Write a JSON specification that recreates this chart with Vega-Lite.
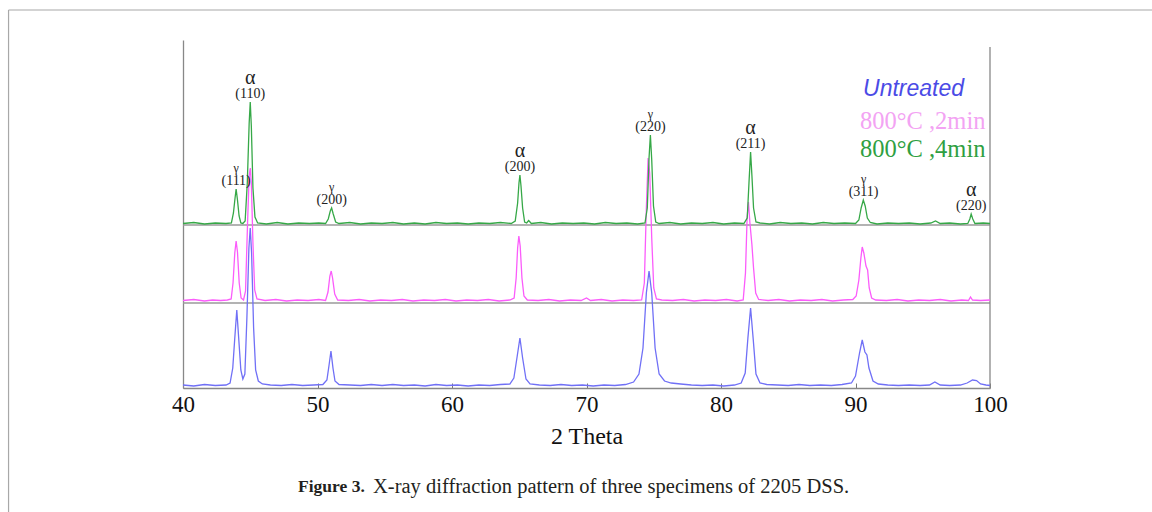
{
  "$schema": "https://vega.github.io/schema/vega-lite/v6.json",
  "width": 807,
  "height": 348,
  "autosize": {"type": "none"},
  "padding": {"left": 183, "top": 40, "right": 162, "bottom": 124},
  "background": "white",
  "config": {"view": {"stroke": null}},
  "data": {"values": [{}]},
  "datasets": {
    "xrd": [
      {"t": 40, "i": 3, "s": "Untreated"}, {"t": 40.8, "i": 2, "s": "Untreated"}, {"t": 41.6, "i": 3.5, "s": "Untreated"}, {"t": 42.4, "i": 2.5, "s": "Untreated"}, {"t": 43.2, "i": 3, "s": "Untreated"}, {"t": 43.5, "i": 5, "s": "Untreated"}, {"t": 43.7, "i": 20, "s": "Untreated"}, {"t": 43.85, "i": 50, "s": "Untreated"}, {"t": 44.0, "i": 78, "s": "Untreated"}, {"t": 44.15, "i": 48, "s": "Untreated"}, {"t": 44.3, "i": 18, "s": "Untreated"}, {"t": 44.45, "i": 9, "s": "Untreated"}, {"t": 44.6, "i": 14, "s": "Untreated"}, {"t": 44.75, "i": 70, "s": "Untreated"}, {"t": 44.9, "i": 140, "s": "Untreated"}, {"t": 45.0, "i": 160, "s": "Untreated"}, {"t": 45.1, "i": 135, "s": "Untreated"}, {"t": 45.25, "i": 60, "s": "Untreated"}, {"t": 45.4, "i": 18, "s": "Untreated"}, {"t": 45.6, "i": 7, "s": "Untreated"}, {"t": 45.9, "i": 4, "s": "Untreated"}, {"t": 46.5, "i": 3, "s": "Untreated"}, {"t": 47.3, "i": 2.5, "s": "Untreated"}, {"t": 48.1, "i": 3.5, "s": "Untreated"}, {"t": 48.9, "i": 2.5, "s": "Untreated"}, {"t": 49.7, "i": 3, "s": "Untreated"}, {"t": 50.4, "i": 3.5, "s": "Untreated"}, {"t": 50.7, "i": 8, "s": "Untreated"}, {"t": 50.85, "i": 22, "s": "Untreated"}, {"t": 51.0, "i": 37, "s": "Untreated"}, {"t": 51.15, "i": 20, "s": "Untreated"}, {"t": 51.3, "i": 7, "s": "Untreated"}, {"t": 51.6, "i": 3.5, "s": "Untreated"}, {"t": 52.4, "i": 3, "s": "Untreated"}, {"t": 53.2, "i": 2.5, "s": "Untreated"}, {"t": 54, "i": 3.5, "s": "Untreated"}, {"t": 54.8, "i": 2.5, "s": "Untreated"}, {"t": 55.6, "i": 3.5, "s": "Untreated"}, {"t": 56.4, "i": 2.5, "s": "Untreated"}, {"t": 57.2, "i": 3, "s": "Untreated"}, {"t": 58, "i": 2, "s": "Untreated"}, {"t": 58.8, "i": 3.5, "s": "Untreated"}, {"t": 59.6, "i": 2.5, "s": "Untreated"}, {"t": 60.4, "i": 3, "s": "Untreated"}, {"t": 61.2, "i": 2, "s": "Untreated"}, {"t": 62, "i": 3, "s": "Untreated"}, {"t": 62.8, "i": 2.5, "s": "Untreated"}, {"t": 63.6, "i": 3.5, "s": "Untreated"}, {"t": 64.3, "i": 4, "s": "Untreated"}, {"t": 64.6, "i": 10, "s": "Untreated"}, {"t": 64.85, "i": 32, "s": "Untreated"}, {"t": 65.05, "i": 50, "s": "Untreated"}, {"t": 65.25, "i": 30, "s": "Untreated"}, {"t": 65.5, "i": 9, "s": "Untreated"}, {"t": 65.8, "i": 4, "s": "Untreated"}, {"t": 66.5, "i": 3, "s": "Untreated"}, {"t": 67.3, "i": 2.5, "s": "Untreated"}, {"t": 68.1, "i": 3.5, "s": "Untreated"}, {"t": 68.9, "i": 2.5, "s": "Untreated"}, {"t": 69.7, "i": 3, "s": "Untreated"}, {"t": 70.5, "i": 2, "s": "Untreated"}, {"t": 71.3, "i": 3, "s": "Untreated"}, {"t": 72.1, "i": 2.5, "s": "Untreated"}, {"t": 72.9, "i": 3.5, "s": "Untreated"}, {"t": 73.5, "i": 6, "s": "Untreated"}, {"t": 73.9, "i": 14, "s": "Untreated"}, {"t": 74.2, "i": 40, "s": "Untreated"}, {"t": 74.45, "i": 95, "s": "Untreated"}, {"t": 74.65, "i": 117, "s": "Untreated"}, {"t": 74.85, "i": 95, "s": "Untreated"}, {"t": 75.1, "i": 40, "s": "Untreated"}, {"t": 75.4, "i": 14, "s": "Untreated"}, {"t": 75.8, "i": 7, "s": "Untreated"}, {"t": 76.3, "i": 5, "s": "Untreated"}, {"t": 77, "i": 4, "s": "Untreated"}, {"t": 77.8, "i": 3, "s": "Untreated"}, {"t": 78.6, "i": 2.5, "s": "Untreated"}, {"t": 79.4, "i": 3, "s": "Untreated"}, {"t": 80.2, "i": 2, "s": "Untreated"}, {"t": 81, "i": 3, "s": "Untreated"}, {"t": 81.5, "i": 5, "s": "Untreated"}, {"t": 81.8, "i": 15, "s": "Untreated"}, {"t": 82.0, "i": 50, "s": "Untreated"}, {"t": 82.2, "i": 80, "s": "Untreated"}, {"t": 82.4, "i": 48, "s": "Untreated"}, {"t": 82.6, "i": 14, "s": "Untreated"}, {"t": 82.9, "i": 5, "s": "Untreated"}, {"t": 83.4, "i": 3.5, "s": "Untreated"}, {"t": 84.2, "i": 3, "s": "Untreated"}, {"t": 85, "i": 2.5, "s": "Untreated"}, {"t": 85.8, "i": 3.5, "s": "Untreated"}, {"t": 86.6, "i": 2.5, "s": "Untreated"}, {"t": 87.4, "i": 3, "s": "Untreated"}, {"t": 88.2, "i": 2.5, "s": "Untreated"}, {"t": 89, "i": 3.5, "s": "Untreated"}, {"t": 89.7, "i": 5, "s": "Untreated"}, {"t": 90.0, "i": 12, "s": "Untreated"}, {"t": 90.3, "i": 35, "s": "Untreated"}, {"t": 90.5, "i": 48, "s": "Untreated"}, {"t": 90.7, "i": 36, "s": "Untreated"}, {"t": 90.85, "i": 33, "s": "Untreated"}, {"t": 91.0, "i": 20, "s": "Untreated"}, {"t": 91.3, "i": 7, "s": "Untreated"}, {"t": 91.7, "i": 4, "s": "Untreated"}, {"t": 92.4, "i": 3, "s": "Untreated"}, {"t": 93.2, "i": 2.5, "s": "Untreated"}, {"t": 94, "i": 3, "s": "Untreated"}, {"t": 94.8, "i": 2.5, "s": "Untreated"}, {"t": 95.5, "i": 3, "s": "Untreated"}, {"t": 95.9, "i": 6, "s": "Untreated"}, {"t": 96.3, "i": 3, "s": "Untreated"}, {"t": 97, "i": 2.5, "s": "Untreated"}, {"t": 97.8, "i": 3, "s": "Untreated"}, {"t": 98.3, "i": 5, "s": "Untreated"}, {"t": 98.7, "i": 8, "s": "Untreated"}, {"t": 99.0, "i": 7.5, "s": "Untreated"}, {"t": 99.3, "i": 4, "s": "Untreated"}, {"t": 99.7, "i": 3, "s": "Untreated"}, {"t": 100, "i": 2.5, "s": "Untreated"},

      {"t": 40, "i": 87.5, "s": "800°C ,2min"}, {"t": 40.8, "i": 88.5, "s": "800°C ,2min"}, {"t": 41.6, "i": 87, "s": "800°C ,2min"}, {"t": 42.2, "i": 88, "s": "800°C ,2min"}, {"t": 42.8, "i": 87.5, "s": "800°C ,2min"}, {"t": 43.3, "i": 88, "s": "800°C ,2min"}, {"t": 43.58, "i": 89, "s": "800°C ,2min"}, {"t": 43.72, "i": 105, "s": "800°C ,2min"}, {"t": 43.85, "i": 135, "s": "800°C ,2min"}, {"t": 43.95, "i": 147, "s": "800°C ,2min"}, {"t": 44.05, "i": 136, "s": "800°C ,2min"}, {"t": 44.18, "i": 105, "s": "800°C ,2min"}, {"t": 44.32, "i": 90, "s": "800°C ,2min"}, {"t": 44.5, "i": 88, "s": "800°C ,2min"}, {"t": 44.65, "i": 97, "s": "800°C ,2min"}, {"t": 44.8, "i": 165, "s": "800°C ,2min"}, {"t": 44.92, "i": 212, "s": "800°C ,2min"}, {"t": 45.0, "i": 220, "s": "800°C ,2min"}, {"t": 45.08, "i": 205, "s": "800°C ,2min"}, {"t": 45.2, "i": 145, "s": "800°C ,2min"}, {"t": 45.33, "i": 98, "s": "800°C ,2min"}, {"t": 45.5, "i": 89, "s": "800°C ,2min"}, {"t": 46.1, "i": 87.5, "s": "800°C ,2min"}, {"t": 46.9, "i": 88.5, "s": "800°C ,2min"}, {"t": 47.7, "i": 87, "s": "800°C ,2min"}, {"t": 48.5, "i": 88, "s": "800°C ,2min"}, {"t": 49.3, "i": 87.5, "s": "800°C ,2min"}, {"t": 50.1, "i": 88.5, "s": "800°C ,2min"}, {"t": 50.6, "i": 87.5, "s": "800°C ,2min"}, {"t": 50.78, "i": 96, "s": "800°C ,2min"}, {"t": 50.92, "i": 112, "s": "800°C ,2min"}, {"t": 51.02, "i": 117, "s": "800°C ,2min"}, {"t": 51.12, "i": 110, "s": "800°C ,2min"}, {"t": 51.28, "i": 94, "s": "800°C ,2min"}, {"t": 51.5, "i": 88, "s": "800°C ,2min"}, {"t": 52.3, "i": 87.5, "s": "800°C ,2min"}, {"t": 53.1, "i": 88.5, "s": "800°C ,2min"}, {"t": 53.9, "i": 87, "s": "800°C ,2min"}, {"t": 54.7, "i": 88, "s": "800°C ,2min"}, {"t": 55.5, "i": 87.5, "s": "800°C ,2min"}, {"t": 56.3, "i": 88.5, "s": "800°C ,2min"}, {"t": 57.1, "i": 87, "s": "800°C ,2min"}, {"t": 57.9, "i": 88, "s": "800°C ,2min"}, {"t": 58.7, "i": 87.5, "s": "800°C ,2min"}, {"t": 59.5, "i": 88.5, "s": "800°C ,2min"}, {"t": 60.3, "i": 87, "s": "800°C ,2min"}, {"t": 61.1, "i": 88, "s": "800°C ,2min"}, {"t": 61.9, "i": 87.5, "s": "800°C ,2min"}, {"t": 62.7, "i": 88.5, "s": "800°C ,2min"}, {"t": 63.5, "i": 87, "s": "800°C ,2min"}, {"t": 64.3, "i": 88, "s": "800°C ,2min"}, {"t": 64.62, "i": 90, "s": "800°C ,2min"}, {"t": 64.77, "i": 110, "s": "800°C ,2min"}, {"t": 64.88, "i": 140, "s": "800°C ,2min"}, {"t": 64.97, "i": 152, "s": "800°C ,2min"}, {"t": 65.07, "i": 142, "s": "800°C ,2min"}, {"t": 65.2, "i": 110, "s": "800°C ,2min"}, {"t": 65.35, "i": 92, "s": "800°C ,2min"}, {"t": 65.6, "i": 88, "s": "800°C ,2min"}, {"t": 66.4, "i": 87.5, "s": "800°C ,2min"}, {"t": 67.2, "i": 88.5, "s": "800°C ,2min"}, {"t": 68, "i": 87, "s": "800°C ,2min"}, {"t": 68.8, "i": 88, "s": "800°C ,2min"}, {"t": 69.6, "i": 87.5, "s": "800°C ,2min"}, {"t": 70.0, "i": 90, "s": "800°C ,2min"}, {"t": 70.3, "i": 87.5, "s": "800°C ,2min"}, {"t": 71.1, "i": 88.5, "s": "800°C ,2min"}, {"t": 71.9, "i": 87, "s": "800°C ,2min"}, {"t": 72.7, "i": 88, "s": "800°C ,2min"}, {"t": 73.5, "i": 87.5, "s": "800°C ,2min"}, {"t": 74.1, "i": 88, "s": "800°C ,2min"}, {"t": 74.3, "i": 105, "s": "800°C ,2min"}, {"t": 74.45, "i": 180, "s": "800°C ,2min"}, {"t": 74.58, "i": 230, "s": "800°C ,2min"}, {"t": 74.7, "i": 215, "s": "800°C ,2min"}, {"t": 74.85, "i": 150, "s": "800°C ,2min"}, {"t": 75.0, "i": 100, "s": "800°C ,2min"}, {"t": 75.2, "i": 89, "s": "800°C ,2min"}, {"t": 75.6, "i": 88, "s": "800°C ,2min"}, {"t": 76.4, "i": 87.5, "s": "800°C ,2min"}, {"t": 77.2, "i": 88.5, "s": "800°C ,2min"}, {"t": 78, "i": 87, "s": "800°C ,2min"}, {"t": 78.8, "i": 88, "s": "800°C ,2min"}, {"t": 79.6, "i": 87.5, "s": "800°C ,2min"}, {"t": 80.4, "i": 88.5, "s": "800°C ,2min"}, {"t": 81.2, "i": 87, "s": "800°C ,2min"}, {"t": 81.65, "i": 88, "s": "800°C ,2min"}, {"t": 81.82, "i": 115, "s": "800°C ,2min"}, {"t": 81.94, "i": 170, "s": "800°C ,2min"}, {"t": 82.04, "i": 186, "s": "800°C ,2min"}, {"t": 82.15, "i": 165, "s": "800°C ,2min"}, {"t": 82.3, "i": 143, "s": "800°C ,2min"}, {"t": 82.42, "i": 120, "s": "800°C ,2min"}, {"t": 82.58, "i": 95, "s": "800°C ,2min"}, {"t": 82.8, "i": 88.5, "s": "800°C ,2min"}, {"t": 83.5, "i": 87.5, "s": "800°C ,2min"}, {"t": 84.3, "i": 88.5, "s": "800°C ,2min"}, {"t": 85.1, "i": 87, "s": "800°C ,2min"}, {"t": 85.9, "i": 88, "s": "800°C ,2min"}, {"t": 86.7, "i": 87.5, "s": "800°C ,2min"}, {"t": 87.5, "i": 88.5, "s": "800°C ,2min"}, {"t": 88.3, "i": 87, "s": "800°C ,2min"}, {"t": 89.1, "i": 88, "s": "800°C ,2min"}, {"t": 89.8, "i": 88.5, "s": "800°C ,2min"}, {"t": 90.05, "i": 92, "s": "800°C ,2min"}, {"t": 90.25, "i": 108, "s": "800°C ,2min"}, {"t": 90.4, "i": 130, "s": "800°C ,2min"}, {"t": 90.5, "i": 141, "s": "800°C ,2min"}, {"t": 90.62, "i": 135, "s": "800°C ,2min"}, {"t": 90.78, "i": 122, "s": "800°C ,2min"}, {"t": 90.9, "i": 118, "s": "800°C ,2min"}, {"t": 91.02, "i": 100, "s": "800°C ,2min"}, {"t": 91.2, "i": 90, "s": "800°C ,2min"}, {"t": 91.5, "i": 88, "s": "800°C ,2min"}, {"t": 92.3, "i": 87.5, "s": "800°C ,2min"}, {"t": 93.1, "i": 88.5, "s": "800°C ,2min"}, {"t": 93.9, "i": 87, "s": "800°C ,2min"}, {"t": 94.7, "i": 88, "s": "800°C ,2min"}, {"t": 95.5, "i": 87.5, "s": "800°C ,2min"}, {"t": 96.3, "i": 88.5, "s": "800°C ,2min"}, {"t": 97.1, "i": 87, "s": "800°C ,2min"}, {"t": 97.9, "i": 88, "s": "800°C ,2min"}, {"t": 98.4, "i": 87.5, "s": "800°C ,2min"}, {"t": 98.55, "i": 91, "s": "800°C ,2min"}, {"t": 98.7, "i": 88, "s": "800°C ,2min"}, {"t": 99.3, "i": 87.5, "s": "800°C ,2min"}, {"t": 100, "i": 88, "s": "800°C ,2min"},

      {"t": 40, "i": 164.5, "s": "800°C ,4min"}, {"t": 40.8, "i": 165.5, "s": "800°C ,4min"}, {"t": 41.6, "i": 164, "s": "800°C ,4min"}, {"t": 42.4, "i": 165, "s": "800°C ,4min"}, {"t": 43.2, "i": 164.5, "s": "800°C ,4min"}, {"t": 43.6, "i": 165, "s": "800°C ,4min"}, {"t": 43.75, "i": 175, "s": "800°C ,4min"}, {"t": 43.87, "i": 190, "s": "800°C ,4min"}, {"t": 43.95, "i": 199, "s": "800°C ,4min"}, {"t": 44.05, "i": 188, "s": "800°C ,4min"}, {"t": 44.17, "i": 172, "s": "800°C ,4min"}, {"t": 44.3, "i": 165, "s": "800°C ,4min"}, {"t": 44.45, "i": 164.5, "s": "800°C ,4min"}, {"t": 44.62, "i": 167, "s": "800°C ,4min"}, {"t": 44.78, "i": 205, "s": "800°C ,4min"}, {"t": 44.92, "i": 265, "s": "800°C ,4min"}, {"t": 45.0, "i": 286, "s": "800°C ,4min"}, {"t": 45.08, "i": 262, "s": "800°C ,4min"}, {"t": 45.2, "i": 200, "s": "800°C ,4min"}, {"t": 45.35, "i": 171, "s": "800°C ,4min"}, {"t": 45.55, "i": 165, "s": "800°C ,4min"}, {"t": 46.2, "i": 164, "s": "800°C ,4min"}, {"t": 47, "i": 165.5, "s": "800°C ,4min"}, {"t": 47.8, "i": 164, "s": "800°C ,4min"}, {"t": 48.6, "i": 165, "s": "800°C ,4min"}, {"t": 49.4, "i": 164.5, "s": "800°C ,4min"}, {"t": 50.1, "i": 165, "s": "800°C ,4min"}, {"t": 50.6, "i": 164.5, "s": "800°C ,4min"}, {"t": 50.8, "i": 169, "s": "800°C ,4min"}, {"t": 50.95, "i": 177, "s": "800°C ,4min"}, {"t": 51.05, "i": 180, "s": "800°C ,4min"}, {"t": 51.17, "i": 174, "s": "800°C ,4min"}, {"t": 51.35, "i": 166, "s": "800°C ,4min"}, {"t": 51.6, "i": 164.5, "s": "800°C ,4min"}, {"t": 52.4, "i": 165.5, "s": "800°C ,4min"}, {"t": 53.2, "i": 164, "s": "800°C ,4min"}, {"t": 54, "i": 165, "s": "800°C ,4min"}, {"t": 54.8, "i": 164.5, "s": "800°C ,4min"}, {"t": 55.6, "i": 165.5, "s": "800°C ,4min"}, {"t": 56.4, "i": 164, "s": "800°C ,4min"}, {"t": 57.2, "i": 165, "s": "800°C ,4min"}, {"t": 58, "i": 164, "s": "800°C ,4min"}, {"t": 58.8, "i": 165.5, "s": "800°C ,4min"}, {"t": 59.6, "i": 164.5, "s": "800°C ,4min"}, {"t": 60.4, "i": 165, "s": "800°C ,4min"}, {"t": 61.2, "i": 164, "s": "800°C ,4min"}, {"t": 62, "i": 165, "s": "800°C ,4min"}, {"t": 62.8, "i": 164.5, "s": "800°C ,4min"}, {"t": 63.6, "i": 165.5, "s": "800°C ,4min"}, {"t": 64.4, "i": 164.5, "s": "800°C ,4min"}, {"t": 64.7, "i": 167, "s": "800°C ,4min"}, {"t": 64.88, "i": 185, "s": "800°C ,4min"}, {"t": 64.98, "i": 205, "s": "800°C ,4min"}, {"t": 65.05, "i": 213, "s": "800°C ,4min"}, {"t": 65.13, "i": 202, "s": "800°C ,4min"}, {"t": 65.25, "i": 180, "s": "800°C ,4min"}, {"t": 65.4, "i": 166, "s": "800°C ,4min"}, {"t": 65.55, "i": 165, "s": "800°C ,4min"}, {"t": 65.7, "i": 167.5, "s": "800°C ,4min"}, {"t": 65.9, "i": 164.5, "s": "800°C ,4min"}, {"t": 66.6, "i": 165.5, "s": "800°C ,4min"}, {"t": 67.4, "i": 164, "s": "800°C ,4min"}, {"t": 68.2, "i": 165, "s": "800°C ,4min"}, {"t": 69, "i": 164.5, "s": "800°C ,4min"}, {"t": 69.8, "i": 165, "s": "800°C ,4min"}, {"t": 70.6, "i": 164, "s": "800°C ,4min"}, {"t": 71.4, "i": 165.5, "s": "800°C ,4min"}, {"t": 72.2, "i": 164.5, "s": "800°C ,4min"}, {"t": 73, "i": 165, "s": "800°C ,4min"}, {"t": 73.8, "i": 164, "s": "800°C ,4min"}, {"t": 74.35, "i": 165, "s": "800°C ,4min"}, {"t": 74.52, "i": 180, "s": "800°C ,4min"}, {"t": 74.65, "i": 230, "s": "800°C ,4min"}, {"t": 74.75, "i": 253, "s": "800°C ,4min"}, {"t": 74.85, "i": 228, "s": "800°C ,4min"}, {"t": 74.98, "i": 182, "s": "800°C ,4min"}, {"t": 75.15, "i": 166, "s": "800°C ,4min"}, {"t": 75.4, "i": 164.5, "s": "800°C ,4min"}, {"t": 76.2, "i": 165.5, "s": "800°C ,4min"}, {"t": 77, "i": 164, "s": "800°C ,4min"}, {"t": 77.8, "i": 165, "s": "800°C ,4min"}, {"t": 78.6, "i": 164.5, "s": "800°C ,4min"}, {"t": 79.4, "i": 165.5, "s": "800°C ,4min"}, {"t": 80.2, "i": 164, "s": "800°C ,4min"}, {"t": 81, "i": 165, "s": "800°C ,4min"}, {"t": 81.7, "i": 164.5, "s": "800°C ,4min"}, {"t": 81.95, "i": 170, "s": "800°C ,4min"}, {"t": 82.08, "i": 205, "s": "800°C ,4min"}, {"t": 82.2, "i": 236, "s": "800°C ,4min"}, {"t": 82.3, "i": 212, "s": "800°C ,4min"}, {"t": 82.42, "i": 180, "s": "800°C ,4min"}, {"t": 82.6, "i": 166, "s": "800°C ,4min"}, {"t": 82.9, "i": 165, "s": "800°C ,4min"}, {"t": 83.6, "i": 164, "s": "800°C ,4min"}, {"t": 84.4, "i": 165.5, "s": "800°C ,4min"}, {"t": 85.2, "i": 164.5, "s": "800°C ,4min"}, {"t": 86, "i": 165, "s": "800°C ,4min"}, {"t": 86.8, "i": 164, "s": "800°C ,4min"}, {"t": 87.6, "i": 165.5, "s": "800°C ,4min"}, {"t": 88.4, "i": 164.5, "s": "800°C ,4min"}, {"t": 89.2, "i": 165, "s": "800°C ,4min"}, {"t": 90, "i": 164.5, "s": "800°C ,4min"}, {"t": 90.25, "i": 168, "s": "800°C ,4min"}, {"t": 90.42, "i": 180, "s": "800°C ,4min"}, {"t": 90.58, "i": 188, "s": "800°C ,4min"}, {"t": 90.72, "i": 182, "s": "800°C ,4min"}, {"t": 90.88, "i": 170, "s": "800°C ,4min"}, {"t": 91.1, "i": 165.5, "s": "800°C ,4min"}, {"t": 91.6, "i": 164, "s": "800°C ,4min"}, {"t": 92.4, "i": 165, "s": "800°C ,4min"}, {"t": 93.2, "i": 164.5, "s": "800°C ,4min"}, {"t": 94, "i": 165, "s": "800°C ,4min"}, {"t": 94.8, "i": 164, "s": "800°C ,4min"}, {"t": 95.6, "i": 165, "s": "800°C ,4min"}, {"t": 95.95, "i": 167, "s": "800°C ,4min"}, {"t": 96.3, "i": 164.5, "s": "800°C ,4min"}, {"t": 97, "i": 165, "s": "800°C ,4min"}, {"t": 97.8, "i": 164, "s": "800°C ,4min"}, {"t": 98.35, "i": 164.5, "s": "800°C ,4min"}, {"t": 98.5, "i": 169, "s": "800°C ,4min"}, {"t": 98.6, "i": 174, "s": "800°C ,4min"}, {"t": 98.72, "i": 169, "s": "800°C ,4min"}, {"t": 98.88, "i": 164.5, "s": "800°C ,4min"}, {"t": 99.5, "i": 165, "s": "800°C ,4min"}, {"t": 100, "i": 164.5, "s": "800°C ,4min"}
    ],
    "peaks": [
      {"t": 43.95, "i": 199, "phase": "γ", "hkl": "(111)"},
      {"t": 45.0, "i": 286, "phase": "α", "hkl": "(110)"},
      {"t": 51.05, "i": 180, "phase": "γ", "hkl": "(200)"},
      {"t": 65.05, "i": 213, "phase": "α", "hkl": "(200)"},
      {"t": 74.75, "i": 253, "phase": "γ", "hkl": "(220)"},
      {"t": 82.2, "i": 236, "phase": "α", "hkl": "(211)"},
      {"t": 90.6, "i": 188, "phase": "γ", "hkl": "(311)"},
      {"t": 98.6, "i": 174, "phase": "α", "hkl": "(220)"}
    ]
  },
  "layer": [
    {
      "mark": {"type": "rule", "color": "#a8a8a8", "strokeWidth": 1.2},
      "encoding": {"x": {"datum": 27.03, "scale": {"domain": [40, 100], "nice": false, "zero": false}}, "y": {"datum": 378}, "x2": {"datum": 113}}
    },
    {
      "mark": {"type": "rule", "color": "#a8a8a8", "strokeWidth": 1.2},
      "encoding": {"x": {"datum": 27.03}, "y": {"datum": 378}, "y2": {"datum": -130}}
    },
    {
      "mark": {"type": "rule", "color": "#9a9a9a", "strokeWidth": 1.3},
      "encoding": {"y": {"datum": 163}, "x": {"datum": 40}, "x2": {"datum": 100}}
    },
    {
      "mark": {"type": "rule", "color": "#9a9a9a", "strokeWidth": 1.3},
      "encoding": {"y": {"datum": 85}, "x": {"datum": 40}, "x2": {"datum": 100}}
    },
    {
      "mark": {"type": "rule", "color": "#888888", "strokeWidth": 1.3},
      "encoding": {"x": {"datum": 100}, "y": {"datum": 0}, "y2": {"datum": 341}}
    },
    {
      "data": {"name": "xrd"},
      "mark": {"type": "line", "strokeWidth": 1.3, "interpolate": "linear"},
      "encoding": {
        "x": {
          "field": "t", "type": "quantitative",
          "scale": {"domain": [40, 100], "nice": false, "zero": false},
          "axis": {
            "values": [40, 50, 60, 70, 80, 90, 100],
            "title": "2 Theta",
            "titleFont": "Liberation Serif", "titleFontSize": 24, "titleFontWeight": "normal", "titleColor": "#111111", "titlePadding": 8,
            "labelFont": "Liberation Serif", "labelFontSize": 23, "labelColor": "#111111", "labelPadding": 10, "labelFlush": false,
            "domainColor": "#888888", "domainWidth": 1.3,
            "tickColor": "#777777", "tickSize": -5, "grid": false
          }
        },
        "y": {
          "field": "i", "type": "quantitative",
          "scale": {"domain": [0, 348], "nice": false, "zero": false},
          "axis": {"title": null, "labels": false, "ticks": false, "grid": false, "domainColor": "#888888", "domainWidth": 1.3}
        },
        "color": {
          "field": "s", "type": "nominal",
          "scale": {"domain": ["Untreated", "800°C ,2min", "800°C ,4min"], "range": ["#7070f6", "#fb5cfb", "#36a847"]},
          "legend": null
        }
      }
    },
    {
      "data": {"name": "peaks"},
      "mark": {"type": "text", "font": "Liberation Serif", "fontSize": 14, "color": "#222222", "baseline": "middle", "dy": -8},
      "encoding": {"x": {"field": "t", "type": "quantitative"}, "y": {"field": "i", "type": "quantitative"}, "text": {"field": "hkl"}}
    },
    {
      "data": {"name": "peaks"},
      "transform": [{"filter": "datum.phase === 'α'"}],
      "mark": {"type": "text", "font": "Liberation Serif", "fontSize": 20, "color": "#222222", "baseline": "middle", "dy": -24},
      "encoding": {"x": {"field": "t", "type": "quantitative"}, "y": {"field": "i", "type": "quantitative"}, "text": {"field": "phase"}}
    },
    {
      "data": {"name": "peaks"},
      "transform": [{"filter": "datum.phase === 'γ'"}],
      "mark": {"type": "text", "font": "Liberation Serif", "fontSize": 12, "color": "#222222", "baseline": "middle", "dy": -21},
      "encoding": {"x": {"field": "t", "type": "quantitative"}, "y": {"field": "i", "type": "quantitative"}, "text": {"field": "phase"}}
    },
    {
      "mark": {"type": "text", "font": "Liberation Sans", "fontStyle": "italic", "fontSize": 23, "color": "#4b4be6", "align": "left", "baseline": "middle"},
      "encoding": {"x": {"datum": 90.56}, "y": {"datum": 299}, "text": {"value": "Untreated"}}
    },
    {
      "mark": {"type": "text", "font": "Liberation Serif", "fontSize": 24.5, "color": "#f3a3f3", "align": "left", "baseline": "middle"},
      "encoding": {"x": {"datum": 90.33}, "y": {"datum": 266}, "text": {"value": "800°C ,2min"}}
    },
    {
      "mark": {"type": "text", "font": "Liberation Serif", "fontSize": 24.5, "color": "#2f9f42", "align": "left", "baseline": "middle"},
      "encoding": {"x": {"datum": 90.33}, "y": {"datum": 238}, "text": {"value": "800°C ,4min"}}
    },
    {
      "mark": {"type": "text", "font": "Liberation Serif", "fontSize": 17.5, "fontWeight": "bold", "color": "#231f20", "align": "left", "baseline": "middle"},
      "encoding": {"x": {"datum": 48.55}, "y": {"datum": -99}, "text": {"value": "Figure 3."}}
    },
    {
      "mark": {"type": "text", "font": "Liberation Serif", "fontSize": 20.5, "color": "#231f20", "align": "left", "baseline": "middle"},
      "encoding": {"x": {"datum": 54.13}, "y": {"datum": -99}, "text": {"value": "X-ray diffraction pattern of three specimens of 2205 DSS."}}
    }
  ]
}
